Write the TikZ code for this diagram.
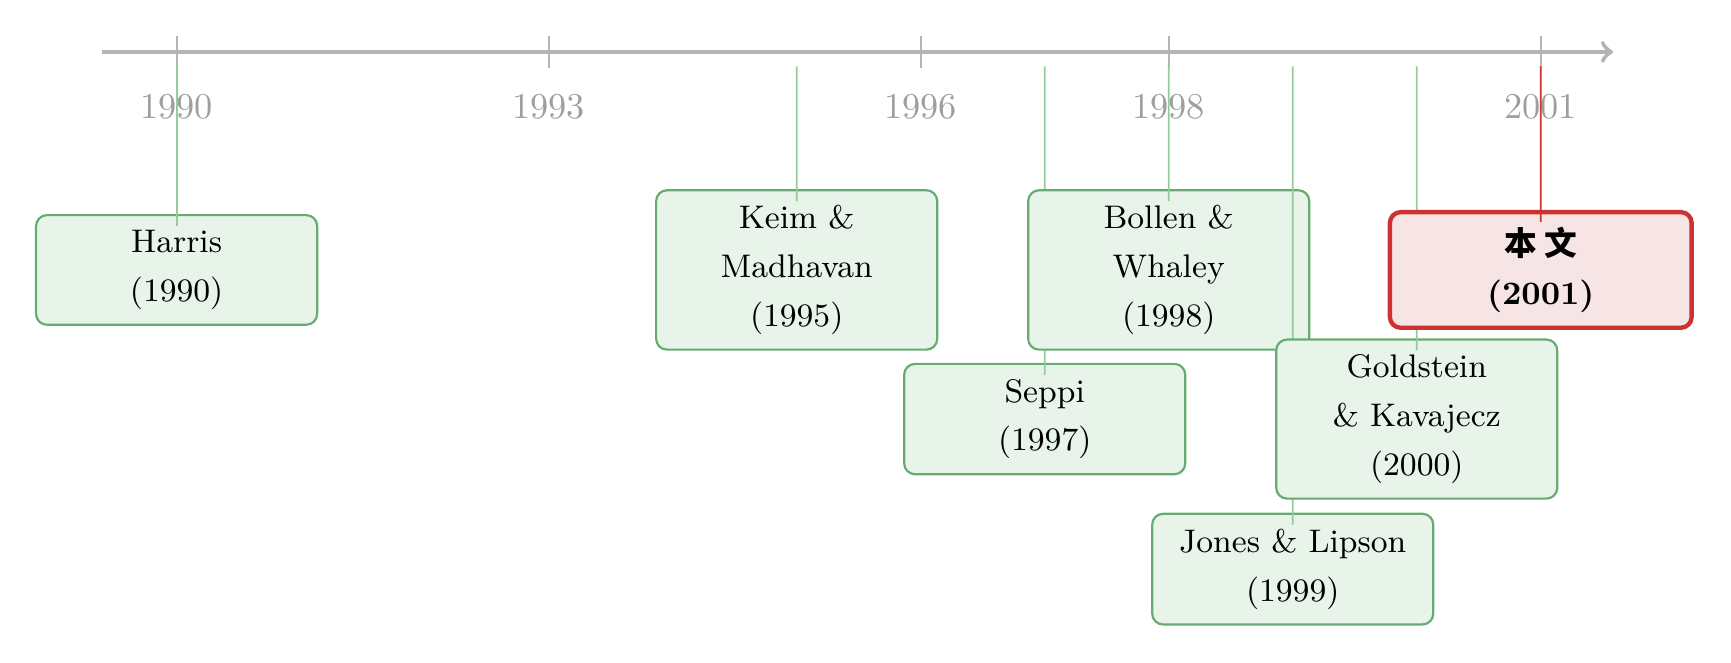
\documentclass[tikz,border=0pt]{standalone}
\usepackage{xcolor}
\usepackage{fontspec}
\usepackage{tikz}
\newfontfamily\cjk{Noto Sans CJK SC}

\definecolor{axisgray}{RGB}{180,180,180}
\definecolor{yeargray}{RGB}{158,158,158}
\definecolor{paperedge}{RGB}{102,172,112}
\definecolor{paperfill}{RGB}{232,243,234}
\definecolor{linkgreen}{RGB}{148,204,158}
\definecolor{oursedge}{RGB}{204,50,50}
\definecolor{oursfill}{RGB}{247,228,229}

\tikzset{
  paper/.style={draw=paperedge, fill=paperfill, line width=0.6pt, rounded corners=3pt,
    align=center, minimum width=2.72cm, inner xsep=4pt, inner ysep=4.2pt,
    font=\fontsize{9}{13.4}\selectfont},
  ours/.style={paper, draw=oursedge, fill=oursfill, line width=1.2pt,
    minimum width=2.92cm, font=\fontsize{9}{13.4}\selectfont\bfseries},
  link/.style={draw=linkgreen, line width=0.5pt},
  ourslink/.style={draw=oursedge, line width=0.5pt},
  yearlabel/.style={text=yeargray, font=\normalsize},
}

\begin{document}
\begin{tikzpicture}
  \useasboundingbox (-1.709,-5.904) rectangle (15.041,0.502);
  %
  \draw[axisgray, line width=1.2pt, ->] (-0.72,0) -- (13.9,0) ;
  \foreach \yr in {1990,1993,1996,1998,2001} {
    \draw[axisgray, line width=0.5pt] ({(\yr-1990)*1.2},0.15) -- ({(\yr-1990)*1.2},-0.155) ;
    \node[yearlabel] (y\yr) at ({(\yr-1990)*1.2},-0.53) {\yr} ;
  }
  \foreach \yr in {1990,1995,1997,1998,1999,2000,2001}
    \coordinate (t\yr) at ({(\yr-1990)*1.2},-0.14) ;
  %
  \node[paper] (harris) at (0,-2.11) {Harris\\(1990)} ;
  \draw[link] (t1990) -- ([yshift=-3.3pt]harris.north) ;
  %
  \node[paper] (keim) at (6,-2.11) {Keim \&\\Madhavan\\(1995)} ;
  \draw[link] (t1995) -- ([yshift=-3.3pt]keim.north) ;
  %
  \node[paper] (seppi) at (8.4,-3.553) {Seppi\\(1997)} ;
  \draw[link] (t1997) -- ([yshift=-3.3pt]seppi.north) ;
  %
  \node[paper] (bollen) at (9.6,-2.11) {Bollen \&\\Whaley\\(1998)} ;
  \draw[link] (t1998) -- ([yshift=-3.3pt]bollen.north) ;
  %
  \node[paper] (jones) at (10.8,-5.005) {Jones \& Lipson\\(1999)} ;
  \draw[link] (t1999) -- ([yshift=-3.3pt]jones.north) ;
  %
  \node[paper] (goldstein) at (12,-3.553) {Goldstein\\\& Kavajecz\\(2000)} ;
  \draw[link] (t2000) -- ([yshift=-3.3pt]goldstein.north) ;
  %
  \node[ours] (ours) at (13.2,-2.11) {{\cjk 本\ 文}\\(2001)} ;
  \draw[ourslink] (t2001) -- ([yshift=-3.3pt]ours.north) ;
\end{tikzpicture}
\end{document}
